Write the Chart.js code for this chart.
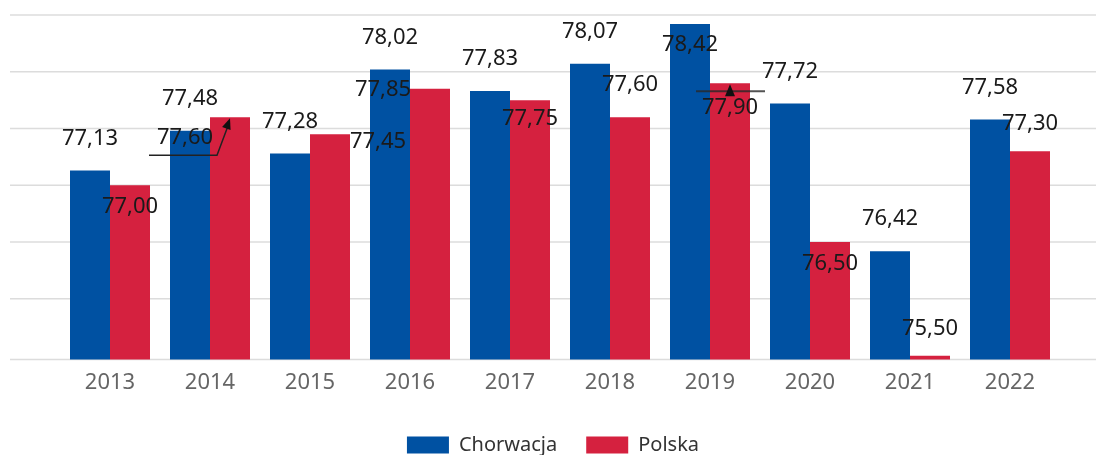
<!DOCTYPE html>
<html>
<head>
<meta charset="utf-8">
<script src="https://cdn.jsdelivr.net/npm/chart.js@4/dist/chart.umd.min.js"></script>
<style>
  html, body { margin: 0; padding: 0; background: #fff; overflow: hidden; }
  #wrap { position: relative; width: 1096px; height: 455px; }
</style>
</head>
<body>
<div id="wrap"><canvas id="chart"></canvas></div>
<script>
const years = ['2013', '2014', '2015', '2016', '2017', '2018', '2019', '2020', '2021', '2022'];
const chorwacja = [77.13, 77.48, 77.28, 78.02, 77.83, 78.07, 78.42, 77.72, 76.42, 77.58];
const polska = [77.00, 77.60, 77.45, 77.85, 77.75, 77.60, 77.90, 76.50, 75.50, 77.30];
const seriesNames = ['Chorwacja', 'Polska'];
const yMin = 75.465; // axis floor sits a little under 75,5 so that bar still shows
const yMax = 78.5;
const yStep = 0.5;

const colors = ['#0051a2', '#d5213f'];
const font = "'Noto Sans', 'Open Sans', sans-serif";

// grid lines run wider than the plot area, like in the source
const wideGrid = {
  id: 'wideGrid',
  beforeDatasetsDraw(chart, args, opts) {
    const {ctx, scales: {y}} = chart;
    const rows = [y.bottom];
    for (const t of y.ticks) {
      if (t.value > 76 - 1e-6) rows.push(y.getPixelForValue(t.value));
    }
    ctx.save();
    ctx.strokeStyle = opts.color;
    ctx.lineWidth = opts.width;
    for (const py of rows) {
      ctx.beginPath();
      ctx.moveTo(opts.left, py);
      ctx.lineTo(chart.width, py);
      ctx.stroke();
    }
    ctx.restore();
  },
  afterLayout(chart, args, opts) {
    chart.legend.left += opts.legendShift;
    chart.legend.right += opts.legendShift;
  }
};

function arrowHead(ctx, fx, fy, tx, ty, len, half) {
  const a = Math.atan2(ty - fy, tx - fx);
  ctx.beginPath();
  ctx.moveTo(tx, ty);
  ctx.lineTo(tx - len * Math.cos(a) + half * Math.sin(a), ty - len * Math.sin(a) - half * Math.cos(a));
  ctx.lineTo(tx - len * Math.cos(a) - half * Math.sin(a), ty - len * Math.sin(a) + half * Math.cos(a));
  ctx.closePath();
  ctx.fill();
}

const valueLabels = {
  id: 'valueLabels',
  afterDatasetsDraw(chart, args, opts) {
    const {ctx} = chart;
    ctx.save();
    ctx.font = `${opts.size}px ${font}`;
    ctx.fillStyle = opts.color;
    ctx.textAlign = 'center';
    ctx.textBaseline = 'middle';
    chart.data.datasets.forEach((ds, di) => {
      chart.getDatasetMeta(di).data.forEach((bar, i) => {
        const [dx, dy] = opts.shift[di][i];
        const text = ds.data[i].toFixed(2).replace('.', ',');
        ctx.fillText(text, bar.x + dx, bar.y - opts.gap + dy);
      });
    });

    // leader lines for labels that were moved off their bars
    ctx.fillStyle = '#111';
    for (const l of opts.leaders) {
      const bar = chart.getDatasetMeta(l.dataset).data[l.index];
      if (l.kind === 'elbow') {
        const ly = bar.y + 38;
        ctx.strokeStyle = '#222';
        ctx.lineWidth = 1.5;
        ctx.beginPath();
        ctx.moveTo(bar.x - 81, ly);
        ctx.lineTo(bar.x - 13, ly);
        ctx.lineTo(bar.x - 1, bar.y + 6);
        ctx.stroke();
        arrowHead(ctx, bar.x - 13, ly, bar.x, bar.y + 1, 11, 4.5);
      } else {
        ctx.strokeStyle = 'rgba(40,40,40,0.8)';
        ctx.lineWidth = 2;
        ctx.beginPath();
        ctx.moveTo(bar.x - 34, bar.y + 8);
        ctx.lineTo(bar.x + 35, bar.y + 8);
        ctx.stroke();
        ctx.beginPath();
        ctx.moveTo(bar.x, bar.y + 1);
        ctx.lineTo(bar.x + 5, bar.y + 13);
        ctx.lineTo(bar.x - 5, bar.y + 13);
        ctx.closePath();
        ctx.fill();
      }
    }
    ctx.restore();
  }
};

new Chart(document.getElementById('chart'), {
  type: 'bar',
  data: {
    labels: years,
    datasets: [
      { label: seriesNames[0], data: chorwacja, backgroundColor: colors[0], borderWidth: 0 },
      { label: seriesNames[1], data: polska, backgroundColor: colors[1], borderWidth: 0 }
    ]
  },
  options: {
    responsive: true,
    maintainAspectRatio: false,
    animation: false,
    datasets: {
      bar: { categoryPercentage: 0.8, barPercentage: 1.0 }
    },
    layout: {
      padding: { left: 60, right: 36, top: 15, bottom: -10 }
    },
    scales: {
      x: {
        grid: { display: false, drawTicks: false },
        border: { display: false },
        ticks: { color: '#666', padding: 10, font: { family: font, size: 22 } }
      },
      y: {
        min: yMin,
        max: yMax,
        grid: { display: false, drawTicks: false },
        border: { display: false },
        ticks: { display: false, stepSize: yStep }
      }
    },
    plugins: {
      legend: {
        position: 'bottom',
        labels: {
          boxWidth: 42,
          boxHeight: 17,
          padding: 29,
          color: '#333',
          font: { family: font, size: 20 }
        }
      },
      tooltip: { enabled: false },
      wideGrid: { color: '#dcdcdc', width: 1.5, left: 10, legendShift: -7 },
      valueLabels: {
        size: 22,
        color: '#1a1a1a',
        gap: 32,
        shift: [
          [[0, 0], [0, 0], [0, 0], [0, 0], [0, 0], [0, 0], [0, 53], [0, 0], [0, 0], [0, 0]],
          [[0, 53], [-45, 53], [48, 40], [-47, 33], [0, 51], [0, 0], [0, 57], [0, 54], [0, 5], [0, 4]]
        ],
        leaders: [
          { dataset: 1, index: 1, kind: 'elbow' },
          { dataset: 1, index: 6, kind: 'bar' }
        ]
      }
    }
  },
  plugins: [wideGrid, valueLabels]
});
</script>
</body>
</html>
